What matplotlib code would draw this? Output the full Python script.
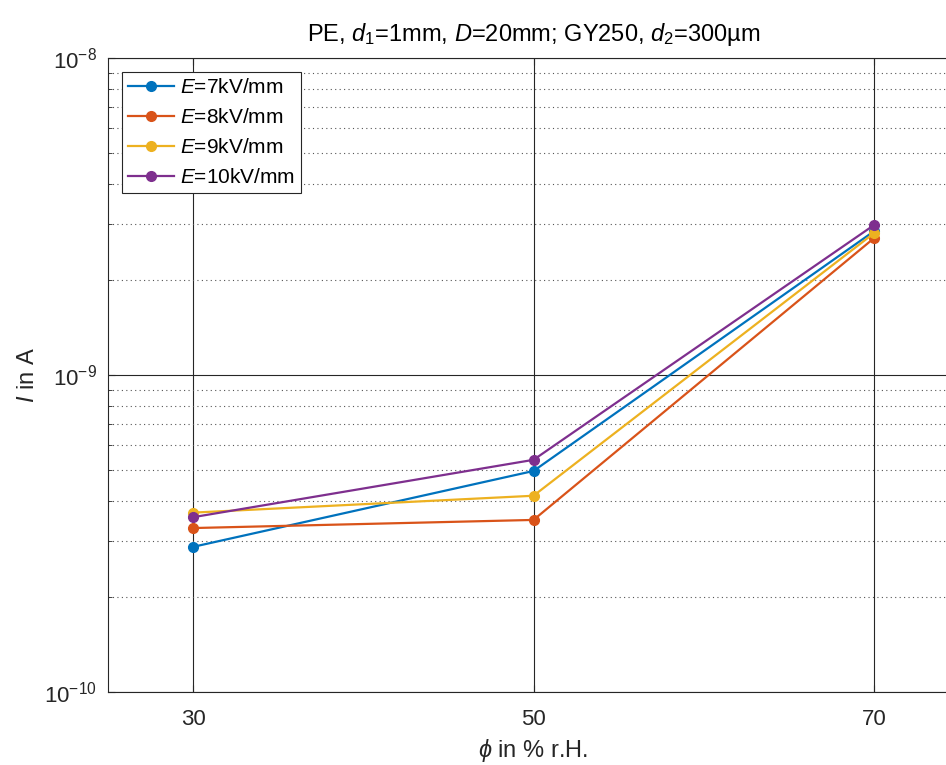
import matplotlib
matplotlib.use("Agg")
import matplotlib.pyplot as plt
from matplotlib.ticker import LogLocator, FixedLocator, NullFormatter

plt.rcParams['font.family'] = ['Liberation Sans', 'DejaVu Sans']
plt.rcParams['mathtext.fontset'] = 'custom'
plt.rcParams['mathtext.rm'] = 'Liberation Sans'
plt.rcParams['mathtext.it'] = 'Liberation Sans:italic'
plt.rcParams['mathtext.bf'] = 'Liberation Sans:bold'
plt.rcParams['axes.unicode_minus'] = False

humidity = [30, 50, 70]
field_labels = ['$E$=7kV/mm', '$E$=8kV/mm', '$E$=9kV/mm', '$E$=10kV/mm']
current_7 = [2.87e-10, 4.98e-10, 2.84e-9]
current_8 = [3.29e-10, 3.49e-10, 2.70e-9]
current_9 = [3.68e-10, 4.16e-10, 2.80e-9]
current_10 = [3.56e-10, 5.40e-10, 2.97e-9]
colors = ['#0072BD', '#D95319', '#EDB120', '#7E2F8E']

fig = plt.figure(figsize=(9.46, 7.65), dpi=100)
ax = fig.add_axes([108/946, 73/765, 851/946, 634/765])

for ys, lab, c in zip([current_7, current_8, current_9, current_10], field_labels, colors):
    ax.plot(humidity, ys, '-o', color=c, lw=1.6, ms=7, label=lab)

ax.set_yscale('log')
ax.set_ylim(1e-10, 1e-8)
ax.set_xlim(25, 75)
ax.set_xticks(humidity)
ax.xaxis.set_minor_locator(FixedLocator([]))
ax.yaxis.set_major_locator(LogLocator(base=10, numticks=10))
ax.yaxis.set_minor_locator(LogLocator(base=10, subs=range(2, 10), numticks=20))
ax.yaxis.set_minor_formatter(NullFormatter())

ax.grid(True, which='major', axis='both', color='#262626', lw=0.8, ls='-')
ax.grid(True, which='minor', axis='y', color='#555555', lw=0.8, ls=(0, (1, 3)))
ax.set_axisbelow(True)

ax.tick_params(which='both', direction='in', labelsize=16, colors='#262626', labelcolor='#262626')
ax.tick_params(which='major', length=5, top=True, right=True)
ax.tick_params(which='minor', length=3, right=True)
ax.tick_params(axis='x', pad=12)
ax.tick_params(axis='y', pad=8)
for s in ax.spines.values():
    s.set_color('#262626')
    s.set_linewidth(0.8)

ax.set_xlabel(r'$\phi$ in % r.H.', fontsize=17, color='#262626', labelpad=5)
ax.set_ylabel(r'$I$ in A', fontsize=17, color='#262626', labelpad=4)
ax.set_title(r'PE, $d_1$=1mm, $D$=20mm; GY250, $d_2$=300µm', fontsize=17, color='#000000', pad=12)

leg = ax.legend(loc='upper left', bbox_to_anchor=(14/851, 1 - 14/634), fontsize=15,
                frameon=True, fancybox=False, edgecolor='#262626', framealpha=1,
                handlelength=2.2, borderpad=0.28, labelspacing=0.53, handletextpad=0.3,
                borderaxespad=0)
leg.get_frame().set_linewidth(0.8)

fig.savefig('out.png', dpi=100)
